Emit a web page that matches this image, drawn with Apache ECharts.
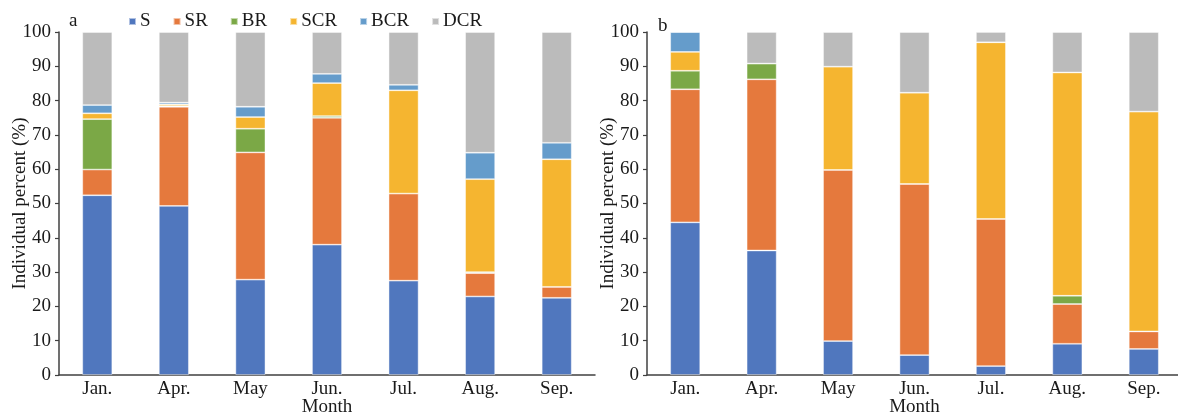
<!DOCTYPE html>
<html>
<head>
<meta charset="utf-8">
<script src="https://cdn.jsdelivr.net/npm/echarts@6/dist/echarts.min.js"></script>
<style>
  html, body { margin: 0; padding: 0; background: #fff; }
  #chart { width: 1178px; height: 414px; }
</style>
</head>
<body>
<div id="chart"></div>
<script>
// Months sampled
const months = ['Jan.', 'Apr.', 'May', 'Jun.', 'Jul.', 'Aug.', 'Sep.'];
const groupNames = ['S', 'SR', 'BR', 'SCR', 'BCR', 'DCR'];
const yTicks = [0, 10, 20, 30, 40, 50, 60, 70, 80, 90, 100];

// Panel a: individual percent (%) by group
const aS   = [52.4, 49.3, 27.8, 38.0, 27.5, 22.9, 22.5];
const aSR  = [7.5, 28.9, 37.1, 37.0, 25.4, 6.8, 3.2];
const aBR  = [14.7, 0.2, 6.9, 0.5, 0, 0.3, 0];
const aSCR = [1.7, 0.5, 3.4, 9.6, 30.1, 27.1, 37.2];
const aBCR = [2.4, 0.5, 3.0, 2.7, 1.6, 7.7, 4.8];
const aDCR = [21.3, 20.6, 21.8, 12.2, 15.4, 35.2, 32.3];

// Panel b: individual percent (%) by group
const bS   = [44.5, 36.3, 9.9, 5.8, 2.6, 9.1, 7.6];
const bSR  = [38.8, 49.9, 49.9, 49.9, 42.9, 11.6, 5.1];
const bBR  = [5.4, 4.6, 0, 0, 0, 2.4, 0];
const bSCR = [5.5, 0, 30.1, 26.6, 51.5, 65.1, 64.1];
const bBCR = [5.8, 0, 0, 0, 0, 0, 0];
const bDCR = [0, 9.2, 10.1, 17.7, 3.0, 11.8, 23.2];

const colors = ['#5077be', '#e5793d', '#7ba846', '#f5b530', '#659ccb', '#bbbbbb'];
const FONT = 'Liberation Serif';
const TXT = '#1a1a1a';

const panelA = [aS, aSR, aBR, aSCR, aBCR, aDCR];
const panelB = [bS, bSR, bBR, bSCR, bBCR, bDCR];

function makeSeries(values, idx) {
  return values.map((data, i) => ({
    name: groupNames[i],
    type: 'bar',
    stack: 'p' + idx,
    xAxisIndex: idx,
    yAxisIndex: idx,
    barWidth: 30,
    data: data,
    itemStyle: { color: colors[i], borderColor: 'rgba(255,255,255,0.55)', borderWidth: 0.8 }
  }));
}

function xAxis(idx) {
  return {
    type: 'category',
    gridIndex: idx,
    data: months,
    name: 'Month',
    nameLocation: 'middle',
    nameGap: 23,
    nameMoveOverlap: false,
    nameTextStyle: { fontFamily: FONT, fontSize: 19, color: TXT },
    axisLine: { lineStyle: { color: '#404040', width: 1.5 } },
    axisTick: { show: false },
    axisLabel: { fontFamily: FONT, fontSize: 19, color: TXT, margin: 5, interval: 0 }
  };
}

function yAxis(idx) {
  return {
    type: 'value',
    gridIndex: idx,
    min: yTicks[0],
    max: yTicks[yTicks.length - 1],
    interval: yTicks[1] - yTicks[0],
    name: 'Individual percent (%)',
    nameLocation: 'middle',
    nameGap: 29,
    nameMoveOverlap: false,
    nameTextStyle: { fontFamily: FONT, fontSize: 19, color: TXT },
    axisLine: { show: true, lineStyle: { color: '#404040', width: 1.5 } },
    axisTick: { show: true, length: 4, lineStyle: { color: '#404040', width: 1.2 } },
    axisLabel: { fontFamily: FONT, fontSize: 19, color: TXT, margin: 8 },
    splitLine: { show: false }
  };
}

const chart = echarts.init(document.getElementById('chart'), null, { renderer: 'canvas' });
chart.setOption({
  animation: false,
  color: colors,
  textStyle: { fontFamily: FONT },
  title: [
    { text: 'a', left: 64, top: 7, textStyle: { fontFamily: FONT, fontSize: 19, fontWeight: 'normal', color: TXT } },
    { text: 'b', left: 653, top: 12, textStyle: { fontFamily: FONT, fontSize: 19, fontWeight: 'normal', color: TXT } }
  ],
  legend: {
    data: groupNames,
    left: 123,
    top: 7,
    itemWidth: 7,
    itemHeight: 7,
    itemGap: 22,
    icon: 'rect',
    textStyle: { fontFamily: FONT, fontSize: 19, color: TXT, padding: [0, 0, 0, -1] }
  },
  grid: [
    { left: 59, top: 32, width: 536, height: 343, containLabel: false, outerBoundsMode: 'none' },
    { left: 647, top: 32, width: 535, height: 343, containLabel: false, outerBoundsMode: 'none' }
  ],
  xAxis: [xAxis(0), xAxis(1)],
  yAxis: [yAxis(0), yAxis(1)],
  series: makeSeries(panelA, 0).concat(makeSeries(panelB, 1))
});
</script>
</body>
</html>
